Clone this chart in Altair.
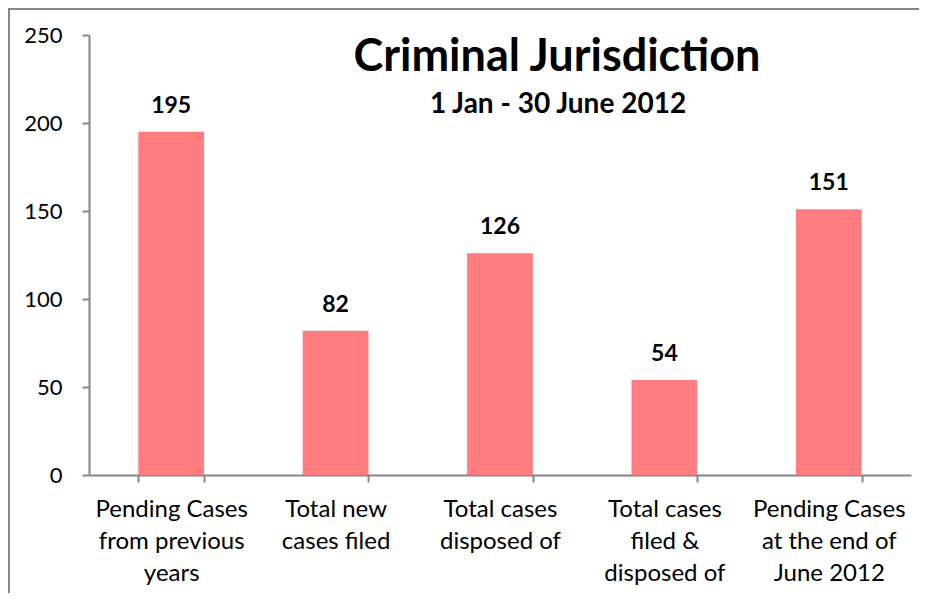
import altair as alt
import pandas as pd

categories = [
    "Pending Cases from previous years",
    "Total new cases filed",
    "Total cases disposed of",
    "Total cases filed & disposed of",
    "Pending Cases at the end of June 2012",
]
label_lines = [
    "Pending Cases|from previous|years",
    "Total new|cases filed",
    "Total cases|disposed of",
    "Total cases|filed &|disposed of",
    "Pending Cases|at the end of|June 2012",
]
values = [195, 82, 126, 54, 151]
y_ticks = [0, 50, 100, 150, 200, 250]

title_text = "Criminal Jurisdiction"
subtitle_text = "1 Jan - 30 June 2012"

FONT = "Lato"
GRAY = "#868686"
BAR = "#FF7C80"

df = pd.DataFrame({"category": categories, "value": values})
label_map = {c: l for c, l in zip(categories, label_lines)}
map_js = "{" + ",".join("'%s':'%s'" % (c, l) for c, l in label_map.items()) + "}"
label_expr = "isValid(%s[datum.label]) ? split(%s[datum.label], '|') : ''" % (map_js, map_js)

x_enc = alt.X(
    "category:N",
    sort=categories,
    title=None,
    scale=alt.Scale(paddingInner=0.6, paddingOuter=0.3),
    axis=alt.Axis(
        labelExpr=label_expr,
        labelAngle=0,
        labelFont=FONT,
        labelFontSize=24,
        labelColor="#000000",
        labelLineHeight=32,
        labelPadding=15,
        labelBaseline="top",
        domainColor=GRAY,
        domainWidth=2,
        tickColor=GRAY,
        tickWidth=2,
        tickSize=7,
        tickBand="extent",
        grid=False,
    ),
)
y_enc = alt.Y(
    "value:Q",
    title=None,
    scale=alt.Scale(domain=[0, 250], nice=False),
    axis=alt.Axis(
        values=y_ticks,
        labelFont=FONT,
        labelFontSize=22,
        labelColor="#000000",
        labelPadding=20,
        domainColor=GRAY,
        domainWidth=2,
        tickColor=GRAY,
        tickWidth=2,
        tickSize=7,
        grid=False,
    ),
)

bars = alt.Chart(df).mark_bar(color=BAR).encode(x=x_enc, y=y_enc)

value_labels = alt.Chart(df).mark_text(
    font=FONT, fontSize=23, fontWeight="bold", color="#000000",
    baseline="alphabetic", dy=-19,
).encode(x=alt.X("category:N", sort=categories), y="value:Q", text="value:Q")

# chart-area frame (top and left edges, as visible in the reference)
frame_df = pd.DataFrame({"k": [0]})
frame_top = alt.Chart(frame_df).mark_rect(color=GRAY, strokeWidth=0).encode(
    x=alt.value(-81), x2=alt.value(830), y=alt.value(-27), y2=alt.value(-25)
)
frame_left = alt.Chart(frame_df).mark_rect(color=GRAY, strokeWidth=0).encode(
    x=alt.value(-81), x2=alt.value(-79), y=alt.value(-27), y2=alt.value(558)
)

title = alt.Chart(pd.DataFrame({"t": [title_text]})).mark_text(
    font=FONT, fontSize=45, fontWeight="bold", color="#000000",
    baseline="alphabetic", align="center",
).encode(x=alt.value(468), y=alt.value(36), text="t:N")

subtitle = alt.Chart(pd.DataFrame({"t": [subtitle_text]})).mark_text(
    font=FONT, fontSize=28, fontWeight="bold", color="#000000",
    baseline="alphabetic", align="center",
).encode(x=alt.value(469), y=alt.value(78), text="t:N")

chart = alt.layer(frame_top, frame_left, bars, value_labels, title, subtitle).properties(
    width=822,
    height=440,
    autosize=alt.AutoSizeParams(type="none"),
    padding={"left": 81, "top": 27, "right": 10, "bottom": 120},
).configure(background="#ffffff", view=alt.ViewConfig(stroke=None))

chart.save("out.html", embed_options={"renderer": "svg", "actions": False})
